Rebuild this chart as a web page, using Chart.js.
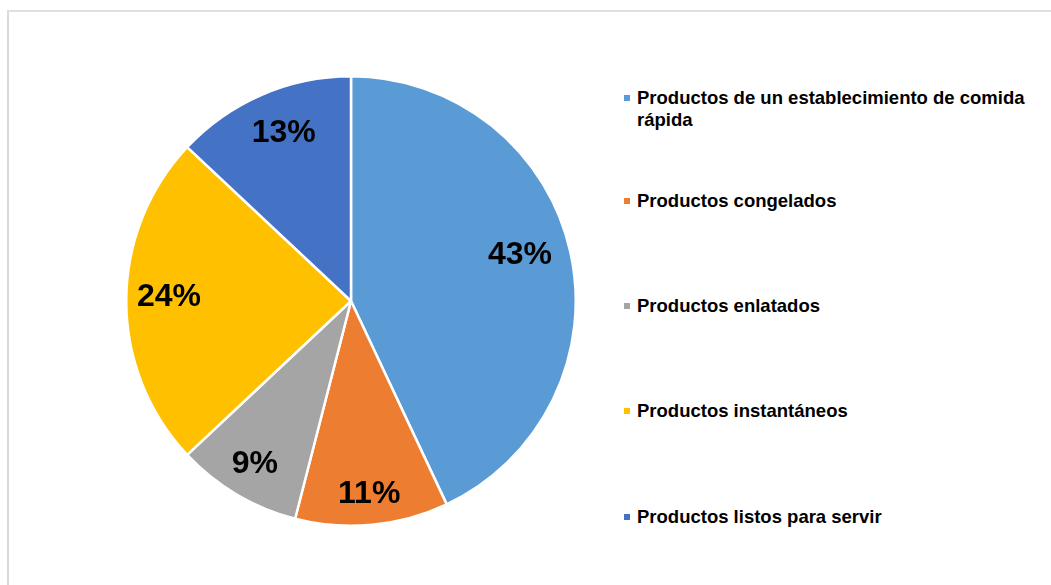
<!DOCTYPE html>
<html>
<head>
<meta charset="utf-8">
<script src="https://cdn.jsdelivr.net/npm/chart.js@4.4.0/dist/chart.umd.min.js"></script>
<style>
  body { margin: 0; background: #fff; font-family: "Liberation Sans", Arial, sans-serif; }
  .frame {
    position: absolute; left: 7px; top: 10px; width: 1100px; height: 650px;
    border-left: 2px solid #d9d9d9; border-top: 2px solid #e0e0e0;
  }
  #pieWrap { position: absolute; left: 125px; top: 75px; width: 452px; height: 452px; }
  .legend { position: absolute; left: 624px; top: 0; }
  .legend .item {
    position: absolute; left: 0; width: 410px;
    font-weight: bold; font-size: 18.5px; line-height: 22px; color: #000;
    padding-left: 13px; white-space: normal;
  }
  .legend .item span.box {
    position: absolute; left: 0; top: 8px; width: 6px; height: 6px;
  }
</style>
</head>
<body>
<div class="frame"></div>
<div id="pieWrap"><canvas id="pieChart"></canvas></div>
<div class="legend" id="legend"></div>
<script>
const categories = [
  "Productos de un establecimiento de comida rápida",
  "Productos congelados",
  "Productos enlatados",
  "Productos instantáneos",
  "Productos listos para servir"
];
const shares = [43, 11, 9, 24, 13];
const sliceColors = ["#5b9bd5", "#ed7d31", "#a5a5a5", "#ffc000", "#4472c4"];

// how far out along each slice its percentage sits (fraction of radius)
const labelRadius = [0.78, 0.86, 0.84, 0.81, 0.81];
// small angular nudge (radians) so labels sit like the best-fit layout
const labelTurn = [-0.05, 0, 0, 0.025, 0.03];

// percentage labels inside each slice
const sliceLabels = {
  id: "sliceLabels",
  afterDatasetsDraw(chart) {
    const ctx = chart.ctx;
    const meta = chart.getDatasetMeta(0);
    ctx.save();
    ctx.font = "bold 32px 'Liberation Sans', Arial, sans-serif";
    ctx.fillStyle = "#000";
    ctx.textAlign = "center";
    ctx.textBaseline = "middle";
    meta.data.forEach((arc, i) => {
      const mid = (arc.startAngle + arc.endAngle) / 2 + labelTurn[i];
      const r = arc.outerRadius * labelRadius[i];
      ctx.fillText(shares[i] + "%", arc.x + Math.cos(mid) * r, arc.y + Math.sin(mid) * r + 1);
    });
    ctx.restore();
  }
};

new Chart(document.getElementById("pieChart"), {
  type: "pie",
  data: {
    labels: categories,
    datasets: [{
      data: shares,
      backgroundColor: sliceColors,
      borderColor: "#ffffff",
      borderWidth: 2.5
    }]
  },
  options: {
    responsive: true,
    maintainAspectRatio: false,
    animation: false,
    layout: { padding: 0 },
    plugins: {
      legend: { display: false },
      tooltip: { enabled: false }
    }
  },
  plugins: [sliceLabels]
});

// legend on the right
const legendTops = [87, 190, 295, 400, 506];
const legend = document.getElementById("legend");
categories.forEach((name, i) => {
  const item = document.createElement("div");
  item.className = "item";
  item.style.top = legendTops[i] + "px";
  const box = document.createElement("span");
  box.className = "box";
  box.style.background = sliceColors[i];
  item.appendChild(box);
  item.appendChild(document.createTextNode(name));
  legend.appendChild(item);
});
</script>
</body>
</html>
